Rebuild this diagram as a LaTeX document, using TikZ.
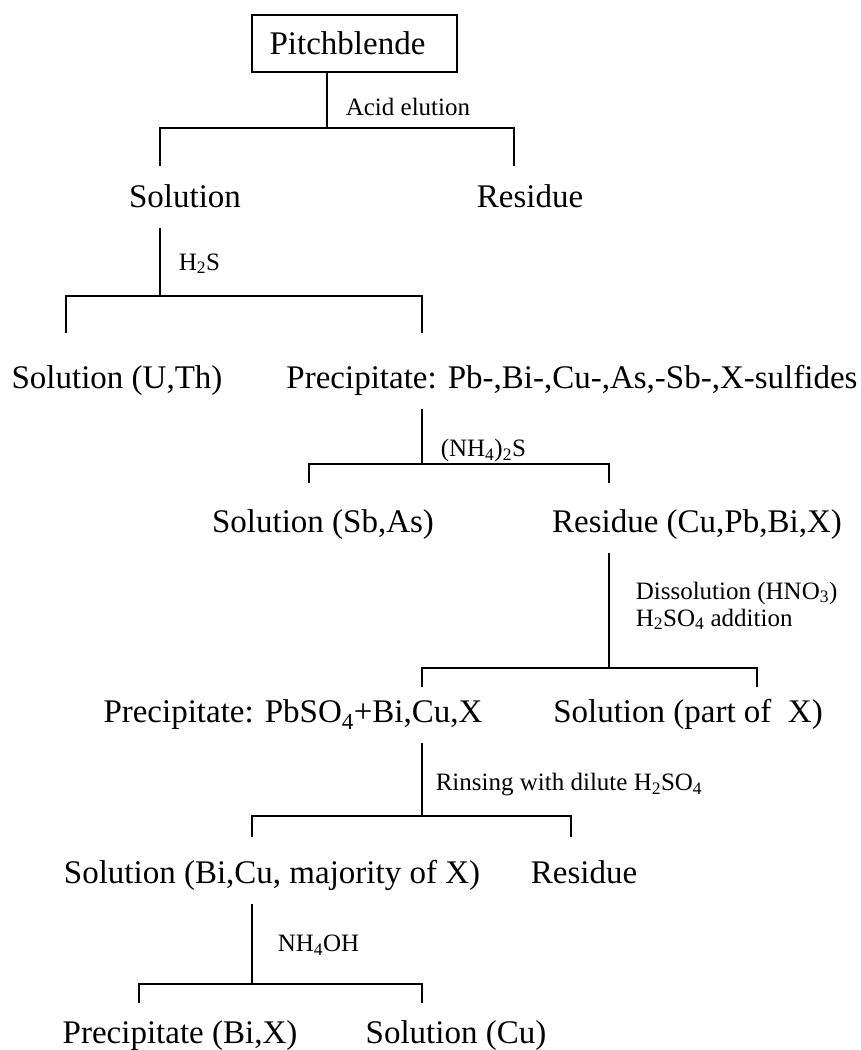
\documentclass[tikz,border=0pt]{standalone}
\usepackage{fontspec}
\setmainfont{Liberation Serif}
\usetikzlibrary{positioning}

\begin{document}
\begin{tikzpicture}[x=1pt, y=-1pt, line width=1.6pt,
    every node/.style={font=\fontsize{33}{38}\selectfont, inner sep=0pt, text height=21.8pt, text depth=0pt},
    item/.style={minimum height=60},
    box/.style={draw, minimum width=205, minimum height=57},
    lbl/.style={font=\fontsize{25}{27}\selectfont, inner xsep=18pt, text height=16.5pt}]
    \useasboundingbox (0,0) rectangle (860,1050);

    % products of each step
    \node [box] (pitch) at (354.5,43.5) {Pitchblende\kern14pt};
    \node [item] (sol) at (185,197) {Solution};
    \node [item] (res) at (530,197) {Residue};
    \node [item] (solUTh) at (117,378) {Solution (U,Th)};
    \node [item] (prec) at (572,378) {Precipitate: Pb-,Bi-,Cu-,As,-Sb-,X-sulfides};
    \node [item] (solSbAs) at (323,522) {Solution (Sb,As)};
    \node [item] (resCu) at (697,522) {Residue (Cu,Pb,Bi,X)};
    \node [item] (precPb) at (293,712) {Precipitate: PbSO\textsubscript{4}+Bi,Cu,X};
    \node [item] (solX) at (688,712) {Solution (part of \ X)};
    \node [item] (solBi) at (272,873) {Solution (Bi,Cu, majority of X)};
    \node [item] (resB) at (584,873) {Residue};
    \node [item] (precBi) at (180,1033) {Precipitate (Bi,X)};
    \node [item] (solCu) at (456,1033) {Solution (Cu)};

    % branch points
    \coordinate (b1) at (327,128);  \coordinate (b1l) at (160,166);  \coordinate (b1r) at (514,166);
    \coordinate (b2) at (160,296);  \coordinate (b2l) at (66,333);   \coordinate (b2r) at (422,333);
    \coordinate (b3) at (422,464);  \coordinate (b3l) at (309,483);  \coordinate (b3r) at (609,483);
    \coordinate (b4) at (609,668);  \coordinate (b4l) at (422,687);  \coordinate (b4r) at (757,687);
    \coordinate (b5) at (422,816);  \coordinate (b5l) at (252,837);  \coordinate (b5r) at (571,837);
    \coordinate (b6) at (252,984);  \coordinate (b6l) at (139,1003); \coordinate (b6r) at (422,1003);

    \draw (pitch.south -| b1) -- node[lbl, right, pos=0.62] {Acid elution} (b1);
    \draw (b1l) |- (b1) -| (b1r);
    \draw (sol.south -| b2) -- node[lbl, right, pos=0.5] {H\textsubscript{2}S} (b2);
    \draw (b2l) |- (b2) -| (b2r);
    \draw (prec.south -| b3) -- node[lbl, right, pos=0.72] {(NH\textsubscript{4})\textsubscript{2}S} (b3);
    \draw (b3l) |- (b3) -| (b3r);
    \draw (resCu.south -| b4) -- node[lbl, right, pos=0.46, xshift=8, text height=, text depth=, align=left] {Dissolution (HNO\textsubscript{3})\\ H\textsubscript{2}SO\textsubscript{4} addition} (b4);
    \draw (b4l) |- (b4) -| (b4r);
    \draw (precPb.south -| b5) -- node[lbl, right, pos=0.54, xshift=-5] {Rinsing with dilute H\textsubscript{2}SO\textsubscript{4}} (b5);
    \draw (b5l) |- (b5) -| (b5r);
    \draw (solBi.south -| b6) -- node[lbl, right, pos=0.49, xshift=7] {NH\textsubscript{4}OH} (b6);
    \draw (b6l) |- (b6) -| (b6r);
\end{tikzpicture}
\end{document}
